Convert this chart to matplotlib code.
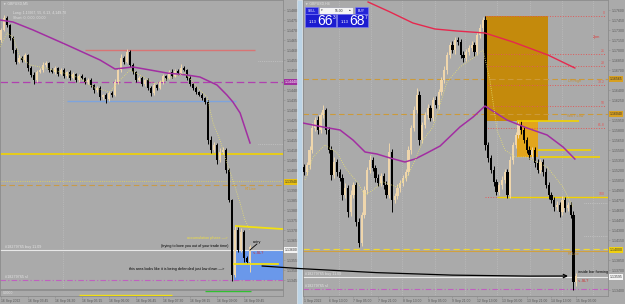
import matplotlib
matplotlib.use('Agg')
import matplotlib.pyplot as plt
import matplotlib.transforms as mtransforms
from matplotlib.patches import Rectangle, ConnectionPatch
import numpy as np

plt.rcParams['font.family'] = ['Liberation Sans', 'DejaVu Sans']

W, H = 625, 304
BG = '#aaaaaa'
BULL = '#efd6ac'
BEAR = '#000000'

# ---------------- LEFT PANEL (GBPUSD M5) ----------------
l_open0 = 1.14650
l_close = [1.14700, 1.14760, 1.14725, 1.14660, 1.14600, 1.14540, 1.14560, 1.14550, 1.14575, 1.14510,
           1.14475, 1.14450, 1.14490, 1.14500, 1.14525, 1.14535, 1.14500, 1.14490, 1.14510, 1.14480,
           1.14500, 1.14470, 1.14490, 1.14460, 1.14480, 1.14450, 1.14470, 1.14460, 1.14440, 1.14450,
           1.14425, 1.14400, 1.14410, 1.14365, 1.14375, 1.14355, 1.14385, 1.14375, 1.14440, 1.14500,
           1.14560, 1.14540, 1.14590, 1.14525, 1.14490, 1.14450, 1.14460, 1.14430, 1.14450, 1.14410,
           1.14385, 1.14425, 1.14410, 1.14440, 1.14470, 1.14460, 1.14490, 1.14470, 1.14495, 1.14485,
           1.14510, 1.14500, 1.14460, 1.14430, 1.14410, 1.14390, 1.14375, 1.14360, 1.14340, 1.14150,
           1.14100, 1.14125, 1.14050, 1.14090, 1.14100, 1.14000, 1.13850, 1.13475, 1.13700, 1.13600,
           1.13690, 1.13560, 1.13540, 1.13615]
l_wick_up = [1.0, 1.5, 1.0, 0.5, 1.0, 1.0, 1.5, 1.0, 1.0, 0.5,
             1.0, 1.5, 1.0, 1.0, 1.5, 1.0, 0.5, 1.0, 1.0, 0.5,
             1.0, 1.0, 0.5, 1.0, 1.0, 0.5, 1.0, 1.0, 0.5, 1.0,
             1.0, 0.5, 1.0, 1.0, 0.5, 1.0, 1.0, 1.0, 1.5, 1.0,
             2.0, 1.0, 1.5, 1.0, 1.0, 0.5, 1.0, 1.0, 0.5, 1.0,
             1.0, 1.0, 0.5, 1.0, 1.0, 0.5, 1.0, 1.5, 1.0, 1.0,
             2.0, 1.0, 0.5, 1.0, 0.5, 1.0, 0.5, 1.0, 0.5, 1.0,
             2.0, 1.5, 1.0, 2.0, 1.5, 1.0, 1.0, 0.5, 2.5, 1.5,
             2.0, 1.0, 1.0, 1.0]
l_wick_dn = [1.0, 0.5, 1.0, 1.0, 1.5, 1.0, 0.5, 1.0, 1.0, 1.5,
             1.0, 2.0, 1.0, 0.5, 1.0, 1.0, 1.0, 0.5, 1.0, 1.0,
             0.5, 1.0, 1.0, 1.0, 0.5, 1.0, 1.0, 0.5, 1.0, 1.0,
             1.0, 1.5, 1.0, 1.5, 1.0, 2.0, 1.0, 1.0, 0.5, 1.0,
             1.0, 1.0, 0.5, 1.0, 1.0, 1.0, 0.5, 1.0, 1.0, 1.0,
             1.5, 1.0, 1.0, 0.5, 1.0, 1.0, 0.5, 1.0, 0.5, 1.0,
             1.0, 0.5, 1.0, 1.0, 1.0, 1.0, 0.5, 1.0, 1.0, 2.0,
             1.5, 1.0, 2.0, 1.0, 1.0, 1.5, 1.0, 3.0, 1.0, 1.0,
             1.0, 2.0, 1.0, 5.0]
l_slow_x = [-0.33, 4, 10.7, 22, 33, 38, 44, 49.7, 55.3, 62, 66.3, 72, 75.3, 77.3, 79.7, 83]
l_slow_y = [1.14750, 1.14740, 1.14700, 1.14625, 1.14550, 1.14505, 1.14515, 1.14500, 1.14485,
            1.14475, 1.14465, 1.14425, 1.14375, 1.14340, 1.14285, 1.14135]
l_fast_x = [-0.33, 2, 4, 6.3, 9.7, 14.7, 19.7, 26.3, 31.3, 36.3, 39.7, 43, 46.3, 51.3, 56.3,
            61.3, 66.3, 68.7, 70.7, 73, 75.3, 77.3, 79.7, 81.3, 83]
l_fast_y = [1.14615, 1.14685, 1.14665, 1.14565, 1.14525, 1.14510, 1.14490, 1.14460, 1.14410,
            1.14390, 1.14450, 1.14500, 1.14475, 1.14430, 1.14460, 1.14485, 1.14400, 1.14365,
            1.14235, 1.14150, 1.14035, 1.13950, 1.13835, 1.13750, 1.13700]
l_yticks = [1.1345 + 0.0005 * k for k in range(28)]
l_marks = [1.1444, 1.1394, 1.1360]
l_time_pos = [0, 9, 18, 27, 36, 45, 54, 63, 72, 81]
l_time_lab = ['16 Sep 2022', '16 Sep 03:45', '16 Sep 04:30', '16 Sep 05:15', '16 Sep 06:00',
              '16 Sep 06:45', '16 Sep 07:30', '16 Sep 08:15', '16 Sep 09:00', '16 Sep 09:45']

# ---------------- RIGHT PANEL (GBPUSD H-chart) ----------------
r_open0 = 1.15250
r_close = [1.15170, 1.15275, 1.15500, 1.15830, 1.15950, 1.15800, 1.16025, 1.16100, 1.15800, 1.15500,
           1.15125, 1.15320, 1.15170, 1.15080, 1.14825, 1.14930, 1.14570, 1.14825, 1.14975, 1.14420,
           1.14105, 1.14525, 1.14900, 1.15200, 1.15350, 1.15230, 1.15080, 1.15005, 1.15110, 1.14975,
           1.14825, 1.15470, 1.14750, 1.14810, 1.14930, 1.15005, 1.15080, 1.15170, 1.15500, 1.15830,
           1.16100, 1.16325, 1.15650, 1.15875, 1.16025, 1.16130, 1.15980, 1.16250, 1.16175, 1.16370,
           1.16550, 1.16700, 1.16925, 1.17075, 1.17000, 1.17150, 1.17120, 1.16925, 1.16880, 1.16970,
           1.17030, 1.17075, 1.16970, 1.17225, 1.17330, 1.17450, 1.15575, 1.15380, 1.15200, 1.15020,
           1.14870, 1.14975, 1.15050, 1.15170, 1.14825, 1.15350, 1.15575, 1.15725, 1.15875, 1.15800,
           1.15650, 1.15500, 1.15425, 1.15500, 1.15305, 1.15200, 1.15320, 1.15170, 1.14975, 1.14825,
           1.14750, 1.14645, 1.14675, 1.14570, 1.14750, 1.14630, 1.14675, 1.14525, 1.13520, 1.13610]
r_wick_up = [4, 5, 6, 8, 5, 6, 4, 7, 3, 5,
             6, 8, 4, 5, 6, 7, 5, 8, 4, 5,
             6, 5, 6, 5, 7.5, 4, 5, 6, 4, 5,
             6, 13.5, 5, 4, 6, 5, 4, 5, 6, 5,
             6, 10, 6, 5, 4, 6, 5, 4, 6, 5,
             4, 6, 5, 4, 6, 5, 4.5, 5, 6, 4,
             5, 6, 4, 5, 6, 4.5, 6, 5, 4, 6,
             5, 4, 6, 5, 4, 6, 5, 4, 6, 7.5,
             5, 4, 6, 5, 4, 6, 5, 4, 6, 5,
             4, 5, 6, 4, 6, 5, 4, 5, 6, 5]
r_wick_dn = [5, 4, 6, 5, 4, 6, 5, 4, 6, 5,
             7, 5, 6, 4, 7, 5, 8, 6, 5, 6,
             6, 5, 4, 6, 5, 4, 6, 5, 4, 6,
             5, 4, 18, 5, 4, 6, 5, 4, 5, 6,
             5, 4, 7.5, 5, 4, 6, 5, 4, 5, 6,
             4, 5, 6, 4, 5, 6, 5, 4, 6, 5,
             4, 5, 6, 4, 5, 4, 8, 6, 5, 6,
             4.5, 5, 6, 4, 4.5, 5, 6, 4, 5, 6,
             5, 4, 6, 5, 6, 5, 4, 6, 5, 6,
             5, 6, 5, 7.5, 5, 6, 5, 4, 12, 6]
r_slow_x = [-0.4, 6.9, 13.1, 17.8, 22.2, 26.5, 31.3, 36.7, 40.4, 44.7, 49.5, 56.7, 61.5,
            65.8, 73.8, 81.1, 88.4, 94.2, 98.5]
r_slow_y = [1.15905, 1.15845, 1.15800, 1.15650, 1.15470, 1.15440, 1.15380, 1.15320, 1.15365,
            1.15455, 1.15560, 1.15845, 1.15995, 1.16160, 1.15950, 1.15830, 1.15725, 1.15545, 1.15365]
r_ma200_x = [23.3, 31.3, 39.6, 47.6, 55.6, 65.8, 76, 88.7, 98.5]
r_ma200_y = [1.17720, 1.17570, 1.17405, 1.17315, 1.17285, 1.17255, 1.17120, 1.16925, 1.16730]
r_fast_x = [0.4, 3.3, 7.6, 12, 15.6, 19.3, 22.2, 25.1, 28.7, 33.8, 37.5, 40.4, 43.3, 46.9, 52,
            56.7, 61.5, 65.1, 67.6, 70.2, 73.1, 76.7, 81.1, 88.4, 94.2, 97.8]
r_fast_y = [1.15050, 1.15395, 1.15575, 1.15455, 1.15200, 1.15020, 1.14825, 1.14900, 1.15020,
            1.14945, 1.15095, 1.15350, 1.15650, 1.15845, 1.16520, 1.16745, 1.16880, 1.17000,
            1.16550, 1.15800, 1.15500, 1.15395, 1.15395, 1.15245, 1.14945, 1.14645]
fib_levels = [1.17510, 1.16940, 1.16760, 1.16475, 1.16160, 1.15830, 1.14795]
fib_labels = ['0', '21', '28', '38.2', '50', '61.8', '100']
r_day_idx = [12.7, 24.4, 35.6, 47.6, 58.5, 70.2, 82.2, 93.8, 105.1]
r_yticks = [1.1340 + 0.0015 * k for k in range(29)]
r_marks = [1.16565, 1.16040, 1.14000, 1.13595]
r_time_pos = [0, 9, 18, 27, 36, 45, 54, 63, 72, 81, 90, 99]
r_time_lab = ['1 Sep 2022', '6 Sep 13:00', '7 Sep 05:00', '7 Sep 21:00', '8 Sep 13:00',
              '9 Sep 05:00', '9 Sep 21:00', '12 Sep 13:00', '13 Sep 05:00', '13 Sep 21:00',
              '14 Sep 13:00', '15 Sep 05:00']

# ---------------- FIGURE ----------------
fig = plt.figure(figsize=(W / 100, H / 100), dpi=100, facecolor=BG)


def px_axes(x0, y0, x1, y1):
    return fig.add_axes([x0 / W, 1 - y1 / H, (x1 - x0) / W, (y1 - y0) / H])


def style(ax):
    ax.set_facecolor(BG)
    for s in ax.spines.values():
        s.set_color('#8c8c8c')
        s.set_linewidth(0.6)


def draw_candles(ax, open0, closes, wu, wd, width, minh):
    c = np.array(closes)
    o = np.concatenate([[open0], c[:-1]])
    hi = np.maximum(o, c) + np.array(wu) * 1e-4
    lo = np.minimum(o, c) - np.array(wd) * 1e-4
    x = np.arange(len(c))
    col = np.where(c >= o, BULL, BEAR)
    ax.vlines(x, lo, hi, colors=col, lw=0.7, zorder=3)
    ax.bar(x, np.maximum(np.abs(c - o), minh), width, bottom=np.minimum(o, c),
           color=col, lw=0, zorder=3)


def axis_label(ax, price, text, fc, tc):
    tr = mtransforms.blended_transform_factory(ax.transAxes, ax.transData)
    ax.text(1.005, price, text, transform=tr, fontsize=2.5, ha='left', va='center', color=tc,
            clip_on=False, zorder=6,
            bbox=dict(boxstyle='square,pad=0.25', fc=fc, ec='none'))


def price_axis(ax, ticks, marks, tol):
    kept = [t for t in ticks if all(abs(t - m) > tol for m in marks)]
    ax.yaxis.tick_right()
    ax.set_yticks(kept)
    ax.set_yticklabels(['%.5f' % t for t in kept])
    ax.tick_params(axis='y', labelsize=2.5, colors='#8c8c8c', labelcolor='#5a5a5a',
                   length=1.5, width=0.4, pad=1)


# ---- left main ----
axL = px_axes(0, 0, 283, 289)
style(axL)
axL.set_xlim(-0.33, 94)
axL.set_ylim(1.13405, 1.1485)
price_axis(axL, l_yticks, l_marks, 0.00030)
axL.set_xticks([])
axL.axvline(20.7, color='#c4c4c4', lw=0.5, ls=':')

axL.add_patch(Rectangle((77.7, 1.1345), 94 - 77.7, 0.0015, color='#6a98ea', lw=0, zorder=1))
axL.hlines(1.1460, 28, 84.7, color='#d87474', lw=1.0, zorder=2)
axL.hlines(1.14345, 22, 78.3, color='#7ea4dc', lw=1.0, zorder=2)
axL.axhline(1.1444, color='#b040b0', lw=0.9, ls=(0, (6, 3)), zorder=2)
axL.axhline(1.1408, color='#f2d200', lw=1.2, zorder=2)
axL.axhline(1.13945, color='#e8d850', lw=0.6, ls=':', zorder=2)
axL.axhline(1.13925, color='#c89a48', lw=0.8, ls=(0, (5, 3)), zorder=2)
axL.axhline(1.1360, color='#e8e8e8', lw=0.8, zorder=2)
axL.axhline(1.1345, color='#c060c0', lw=0.8, ls=(0, (5, 2, 1, 2)), zorder=2)
axL.hlines([1.14545, 1.1413], 85.7, 94, color='#d0d0d0', lw=0.5, ls=':', zorder=2)

draw_candles(axL, l_open0, l_close, l_wick_up, l_wick_dn, 0.8, 0.00002)
axL.plot(l_slow_x, l_slow_y, color='#a22ea2', lw=1.1, zorder=4)
axL.plot(l_fast_x, l_fast_y, color='#e8e070', lw=0.6, ls=':', zorder=4)
axL.plot([78.3, 93.7], [1.1372, 1.13705], color='#f2e010', lw=1.3, zorder=4)
axL.plot([77.7, 92.3], [1.1353, 1.1353], color='#f2e010', lw=1.3, zorder=4)
axL.plot([83, 85.3], [1.1360, 1.1363], color='black', lw=0.6, zorder=5)

tf = dict(fontsize=2.7, zorder=6)
axL.text(1.3, 1.13615, '#18279765 buy 11.09', color='#e4e4e4', va='center', **tf)
axL.text(1.3, 1.13465, '#18279765 sl', color='#e4e4e4', va='center', **tf)
axL.text(81.3, 1.13905, 'RTLine', color='#d89a30', va='center', **tf)
axL.text(75.7, 1.1366, 'accumulation phase \u2014>', color='#f0e040', ha='right', va='center', **tf)
axL.text(75.7, 1.1362, '(trying to bore you out of your trade time)', color='black', ha='right',
         va='center', **tf)
axL.text(74.3, 1.13505, 'this area looks like it is being defended just low down \u2014>',
         color='black', ha='right', va='center', **tf)
axL.text(84, 1.1364, 'entry', color='black', va='center', **tf)
axL.text(84, 1.13585, '<--SL?', color='#d02828', va='center', **tf)
axL.text(0.7, 1.14830, '\u25bc GBPUSD,M5', color='#e0e0e0', va='center', fontsize=2.5)
axL.text(4, 1.14785, 'Long: 1.13667, 55, 6.13, 4,149.70', color='#e0e0e0', va='center',
         fontsize=2.5)
axL.text(4, 1.14760, 'Short: 0, 0.00, 00.00', color='#e0e0e0', va='center', fontsize=2.5)

axis_label(axL, 1.1444, '1.14440', '#a030a0', 'white')
axis_label(axL, 1.1394, '1.13940', '#e8c010', '#333333')
axis_label(axL, 1.1360, '1.13600', '#f4f4f4', '#333333')

# ---- left indicator subwindow ----
axLi = px_axes(0, 290, 283, 296)
style(axLi)
axLi.set_xlim(-0.33, 94)
axLi.set_ylim(0, 1)
axLi.set_yticks([])
axLi.hlines(0.15, 26, 57, color='#f2e010', lw=1.0)
axLi.hlines(0.8, 68, 83.3, color='#30c030', lw=1.0)
axLi.text(0.7, 0.5, '0.0000', fontsize=2.4, color='#e0e0e0', va='center')
axLi.set_xticks(l_time_pos)
axLi.set_xticklabels(l_time_lab, ha='left')
axLi.tick_params(axis='x', labelsize=2.4, colors='#8c8c8c', labelcolor='#5a5a5a',
                 length=1.5, width=0.4, pad=0.5)

# ---- right main ----
axR = px_axes(303, 0, 608, 296)
style(axR)
axR.set_xlim(-0.364, 110.55)
axR.set_ylim(1.1331, 1.1775)
price_axis(axR, r_yticks, r_marks, 0.00085)
axR.set_xticks(r_time_pos)
axR.set_xticklabels(r_time_lab, ha='left')
axR.tick_params(axis='x', labelsize=2.4, colors='#8c8c8c', labelcolor='#5a5a5a',
                length=1.5, width=0.4, pad=0.5)
axR.vlines(r_day_idx, 1.1331, 1.1775, color='#c4c4c4', lw=0.5, ls=':', zorder=0)

axR.add_patch(Rectangle((65.8, 1.15935), 88.7 - 65.8, 1.1751 - 1.15935, color='#c48a0c',
                        lw=0, zorder=1))
axR.add_patch(Rectangle((77.5, 1.15395), 85.1 - 77.5, 1.15935 - 1.15395, color='#e2a51c',
                        lw=0, zorder=1))
for lev, lab in zip(fib_levels, fib_labels):
    axR.hlines(lev, 65.8, 109.5, color='#e05a5a', lw=0.7, ls=':', zorder=2)
    axR.text(109.5, lev + 0.0002, lab, color='#e05a5a', fontsize=2.5, ha='right', va='bottom',
             zorder=6)
axR.hlines(1.14795, 70.2, 110.55, color='#f2d200', lw=1.0, zorder=2)
axR.axhline(1.16565, color='#cc9a3a', lw=0.8, ls=(0, (5, 3)), zorder=2)
axR.axhline(1.16040, color='#cc9a3a', lw=0.8, ls=(0, (5, 3)), zorder=2)
axR.axhline(1.14015, color='#f0d830', lw=0.9, ls=(0, (5, 3)), zorder=2)
axR.axhline(1.13985, color='#d0a040', lw=0.8, zorder=2)
axR.axhline(1.13595, color='#e8e8e8', lw=0.8, zorder=2)
axR.axhline(1.13415, color='#c060c0', lw=0.8, ls=(0, (5, 2, 1, 2)), zorder=2)
axR.hlines([1.14705, 1.14210], 102, 110.55, color='#d0d0d0', lw=0.5, ls=':', zorder=2)
axR.hlines(1.15935, 77.5, 100, color='#f2d200', lw=1.2, zorder=4)
axR.hlines(1.15500, 85.1, 104.4, color='#f2d200', lw=1.2, zorder=4)
axR.hlines(1.15395, 85.8, 107.6, color='#f2d200', lw=1.2, zorder=4)

draw_candles(axR, r_open0, r_close, r_wick_up, r_wick_dn, 0.85, 0.00006)
axR.plot(r_slow_x, r_slow_y, color='#a22ea2', lw=1.1, zorder=4)
axR.plot(r_ma200_x, r_ma200_y, color='#e6284e', lw=1.0, zorder=4)
axR.plot(r_fast_x, r_fast_y, color='#e8e070', lw=0.6, ls=':', zorder=4)

axR.text(99.6, 1.1367, 'inside bar forming', color='black', va='center', **tf)
axR.text(99.6, 1.13535, '<--SL?', color='#d02828', va='center', **tf)
axR.text(105.1, 1.17195, '2pm', color='#e03a3a', va='center', **tf)
axR.text(96, 1.16535, 'D/l High', color='#c89030', va='center', **tf)
axR.text(95.6, 1.1601, 'Wk/T Low', color='#c89030', va='center', **tf)
axR.text(96, 1.1394, 'RTLine', color='#c89030', va='center', **tf)
axR.text(0.4, 1.1364, '#18279765 buy 11.09', color='#e4e4e4', va='center', **tf)
axR.text(0.4, 1.1346, '#18279765 sl', color='#e4e4e4', va='center', **tf)
axR.text(0.4, 1.17690, '\u25bc GBPUSD,H4', color='#e0e0e0', va='center', fontsize=2.5)

axis_label(axR, 1.16565, '1.16565', '#d8a020', '#333333')
axis_label(axR, 1.16040, '1.16040', '#d8a020', '#333333')
axis_label(axR, 1.14000, '1.14000', '#f0d010', '#333333')
axis_label(axR, 1.13595, '1.13595', '#f4f4f4', '#333333')

# ---- arrow across panels ----
con = ConnectionPatch(xyA=(87, 1.1352), coordsA=axL.transData,
                      xyB=(96, 1.1361), coordsB=axR.transData,
                      arrowstyle='->', mutation_scale=6, lw=0.9, color='black',
                      connectionstyle='arc3,rad=0.02', zorder=7)
fig.add_artist(con)


# ---- panel separator ----
def fig_rect(x0, y0, x1, y1, **kw):
    r = Rectangle((x0 / W, 1 - y1 / H), (x1 - x0) / W, (y1 - y0) / H,
                  transform=fig.transFigure, **kw)
    fig.add_artist(r)
    return r


fig_rect(297, 0, 302, 304, fc='#bcd4e6', ec='#e8f0f8', lw=0.4, zorder=5)

# ---- one-click trading panel ----
fig_rect(305, 7, 318, 14, fc='#2424d8', ec='#8080ff', lw=0.4, zorder=8)
fig_rect(319, 7, 353, 14, fc='#f4f4f4', ec='#9090a0', lw=0.4, zorder=8)
fig_rect(355, 7, 368, 14, fc='#2424d8', ec='#8080ff', lw=0.4, zorder=8)
fig_rect(305, 14, 336, 27, fc='#1c1cd0', ec='#8080ff', lw=0.4, zorder=8)
fig_rect(337, 14, 368, 27, fc='#1c1cd0', ec='#8080ff', lw=0.4, zorder=8)


def ftxt(x, y, s, **kw):
    fig.text(x / W, 1 - y / H, s, zorder=9, **kw)


ftxt(311.5, 10.5, 'SELL', fontsize=2.4, color='white', ha='center', va='center')
ftxt(361.5, 10.5, 'BUY', fontsize=2.4, color='white', ha='center', va='center')
ftxt(321, 10.5, '\u25be', fontsize=2.4, color='#333333', ha='left', va='center')
ftxt(343, 10.5, '55.00', fontsize=2.4, color='#333333', ha='right', va='center')
ftxt(351, 10.5, '\u25b4', fontsize=2.4, color='#333333', ha='right', va='center')
ftxt(309, 22, '1.13', fontsize=3, color='white', ha='left', va='center')
ftxt(317.5, 21, '66', fontsize=10, color='white', ha='left', va='center')
ftxt(332.5, 17.5, '3', fontsize=3.5, color='white', ha='left', va='center')
ftxt(341, 22, '1.13', fontsize=3, color='white', ha='left', va='center')
ftxt(349.5, 21, '68', fontsize=10, color='white', ha='left', va='center')
ftxt(364.5, 17.5, '7', fontsize=3.5, color='white', ha='left', va='center')

fig.savefig('out.png', dpi=100, facecolor=BG)
